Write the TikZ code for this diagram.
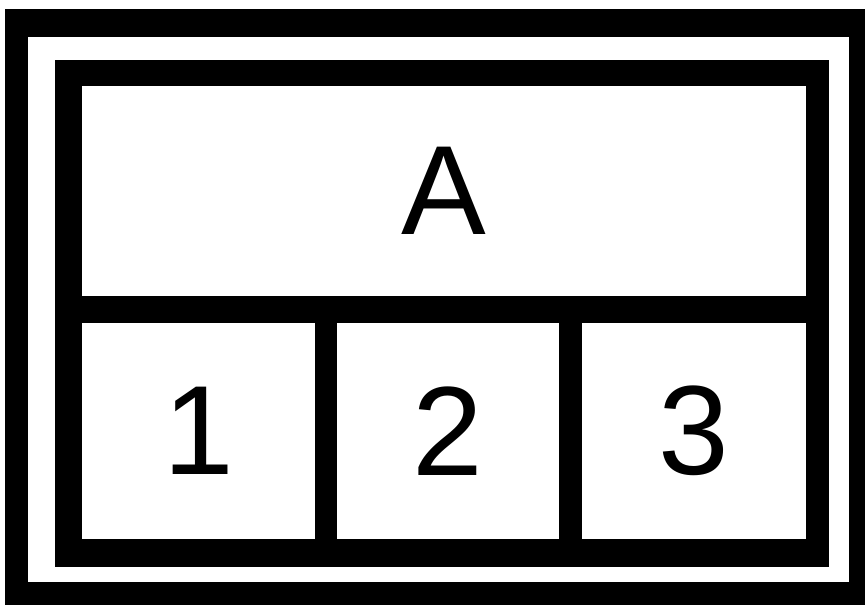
\documentclass[tikz,border=0pt]{standalone}
\usepackage{fontspec}
\setmainfont{Liberation Sans}
\begin{document}
\begin{tikzpicture}[x=1pt,y=-1pt,
  cell/.style={fill=white,draw=none,inner sep=0pt,outer sep=0pt,anchor=north west,
    font=\fontsize{127}{135}\selectfont}]
\useasboundingbox (0,0) rectangle (865,605);
\fill[white] (0,0) rectangle (865,605);
% outer frame
\fill[black] (5,9) rectangle (865,605);
\fill[white] (28,37) rectangle (849,582);
% inner frame
\fill[black] (55,60) rectangle (829,567);
% cells
\node[cell,minimum width=724pt,minimum height=210pt] (A) at (82,86) {A};
\node[cell,minimum width=233pt,minimum height=216pt] (c1) at (82,323) {1};
\node[cell,minimum width=222pt,minimum height=216pt] (c2) at (337,323) {2};
\node[cell,minimum width=224pt,minimum height=216pt] (c3) at (582,323) {3};
\end{tikzpicture}
\end{document}
